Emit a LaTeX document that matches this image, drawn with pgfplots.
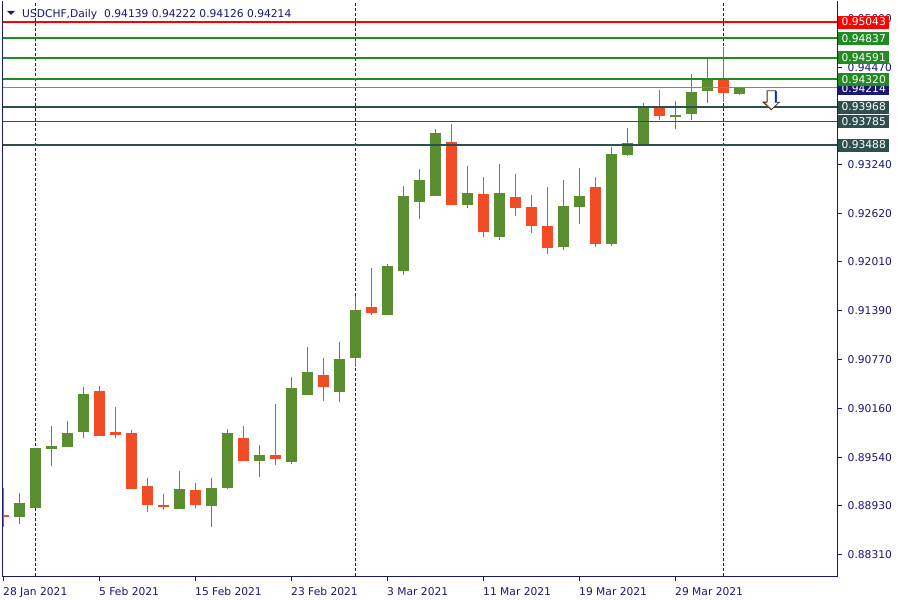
\documentclass[border=0pt]{standalone}
\usepackage{pgfplots}
\pgfplotsset{compat=1.18}
\usepackage{pgfplotstable}
\usepackage{fontspec}
\setmainfont{DejaVu Sans}
\definecolor{mtnavy}{RGB}{25,25,112}
\definecolor{cgreen}{RGB}{90,142,48}
\definecolor{cred}{RGB}{242,76,38}
\definecolor{lvgreen}{RGB}{34,139,34}
\definecolor{lvred}{RGB}{255,0,0}
\definecolor{lvslate}{RGB}{47,79,79}
\definecolor{lvgray}{RGB}{119,136,153}
\newcommand{\lab}{\fontsize{10.7bp}{12bp}\selectfont}

% bullish candles: index O H L C
\pgfplotstableread{
i O H L C
1 0.88785 0.89092 0.88697 0.88962
2 0.88903 0.89660 0.88899 0.89658
3 0.89645 0.89936 0.89430 0.89683
4 0.89670 0.89999 0.89667 0.89847
5 0.89860 0.90429 0.89784 0.90340
11 0.88886 0.89367 0.88882 0.89139
13 0.88924 0.89278 0.88663 0.89152
14 0.89152 0.89898 0.89139 0.89847
16 0.89493 0.89695 0.89291 0.89569
18 0.89481 0.90555 0.89455 0.90416
19 0.90328 0.90934 0.90325 0.90618
21 0.90365 0.90998 0.90239 0.90783
22 0.90795 0.91579 0.90682 0.91402
24 0.91339 0.91984 0.91335 0.91958
25 0.91895 0.92970 0.91845 0.92843
26 0.92767 0.93185 0.92553 0.93046
27 0.92843 0.93690 0.92840 0.93640
29 0.92730 0.93223 0.92692 0.92881
31 0.92325 0.93248 0.92287 0.92881
35 0.92199 0.93046 0.92161 0.92717
36 0.92704 0.93197 0.92489 0.92843
38 0.92237 0.93463 0.92211 0.93374
39 0.93362 0.93703 0.93349 0.93513
40 0.93501 0.94019 0.93475 0.93968
42 0.93846 0.94044 0.93690 0.93867
43 0.93880 0.94386 0.93804 0.94158
44 0.94171 0.94575 0.94019 0.94335
46 0.94139 0.94222 0.94126 0.94214
}\bull

% bearish candles: index O H L C
\pgfplotstableread{
i O H L C
0 0.88810 0.89156 0.88663 0.88785
6 0.90378 0.90445 0.89805 0.89809
7 0.89860 0.90176 0.89784 0.89822
8 0.89847 0.89885 0.89135 0.89139
9 0.89177 0.89278 0.88848 0.88937
10 0.88928 0.89076 0.88874 0.88912
12 0.89127 0.89215 0.88899 0.88937
15 0.89784 0.89936 0.89490 0.89493
17 0.89569 0.90214 0.89443 0.89518
20 0.90580 0.90795 0.90252 0.90429
23 0.91440 0.91933 0.91339 0.91364
28 0.93526 0.93754 0.92726 0.92730
30 0.92869 0.93084 0.92325 0.92388
32 0.92831 0.93121 0.92591 0.92692
33 0.92704 0.92856 0.92376 0.92464
34 0.92464 0.92957 0.92110 0.92186
37 0.92957 0.93084 0.92199 0.92237
41 0.93968 0.94183 0.93804 0.93855
45 0.94335 0.94727 0.94032 0.94145
}\bear

\begin{document}
\begin{tikzpicture}
\path[use as bounding box, fill=white] (-2bp,-24bp) rectangle (898bp,576bp);
\begin{axis}[
  scale only axis, width=835bp, height=575bp,
  at={(0,0)}, anchor=south west,
  xmin=-0.09375, xmax=52.09375, ymin=0.88039, ymax=0.95309,
  clip mode=individual,
  axis line style={draw=none},
  tick align=outside, major tick length=4.5bp,
  xtick pos=left, ytick pos=right,
  xtick={0,6,12,18,24,30,36,42},
  xticklabels={28 Jan 2021,5 Feb 2021,15 Feb 2021,23 Feb 2021,3 Mar 2021,11 Mar 2021,19 Mar 2021,29 Mar 2021},
  extra x ticks={2,22,45},
  extra x tick labels={},
  extra x tick style={grid=major, major tick length=0pt,
     major grid style={mtnavy, line width=0.9bp, dash pattern=on 3bp off 2bp}},
  ytick={0.88310,0.88930,0.89540,0.90160,0.90770,0.91390,0.92010,0.92620,0.93240,0.94470,0.95090},
  scaled y ticks=false,
  yticklabel style={/pgf/number format/fixed, /pgf/number format/fixed zerofill,
     /pgf/number format/precision=5, /pgf/number format/assume math mode=true},
  yticklabel style={anchor=west, inner sep=0pt, xshift=6bp, font=\lab, text=mtnavy},
  xticklabel style={anchor=north west, inner sep=0pt, xshift=-0.5bp, yshift=-6.5bp, font=\lab, text=mtnavy},
  tick style={mtnavy, line width=1bp},
  candle/.style 2 args={draw=none, no markers, error bars/.cd, y dir=both, y explicit, error mark=none,
     error bar style={draw=#1, line width=#2, solid}},
]
% wicks
\addplot[candle={cgreen}{1.25bp}]
  table[x=i, y expr={(\thisrow{H}+\thisrow{L})/2}, y error expr={(\thisrow{H}-\thisrow{L})/2}] {\bull};
\addplot[candle={cred}{1.25bp}]
  table[x=i, y expr={(\thisrow{H}+\thisrow{L})/2}, y error expr={(\thisrow{H}-\thisrow{L})/2}] {\bear};
% bodies
\addplot[candle={cgreen}{11bp}]
  table[x=i, y expr={(\thisrow{O}+\thisrow{C})/2}, y error expr={abs(\thisrow{C}-\thisrow{O})/2+0.00004}] {\bull};
\addplot[candle={cred}{11bp}]
  table[x=i, y expr={(\thisrow{O}+\thisrow{C})/2}, y error expr={abs(\thisrow{O}-\thisrow{C})/2+0.00004}] {\bear};
% levels
\addplot[lvred, line width=1.8bp] coordinates {(-1,0.95043) (53,0.95043)};
\addplot[lvgreen, line width=1.8bp] coordinates {(-1,0.94837) (53,0.94837)};
\addplot[lvgreen, line width=1.8bp] coordinates {(-1,0.94591) (53,0.94591)};
\addplot[lvgreen, line width=1.8bp] coordinates {(-1,0.94320) (53,0.94320)};
\addplot[lvgray, line width=1bp] coordinates {(-1,0.94214) (53,0.94214)};
\addplot[lvslate, line width=1.8bp] coordinates {(-1,0.93968) (53,0.93968)};
\addplot[lvslate, line width=1.8bp] coordinates {(-1,0.93785) (53,0.93785)};
\addplot[lvslate, line width=1.8bp] coordinates {(-1,0.93488) (53,0.93488)};
\coordinate (b1) at (axis cs:52.09375,0.95043);
\coordinate (b2) at (axis cs:52.09375,0.94837);
\coordinate (b3) at (axis cs:52.09375,0.94591);
\coordinate (b4) at (axis cs:52.09375,0.94320);
\coordinate (b5) at (axis cs:52.09375,0.94214);
\coordinate (b6) at (axis cs:52.09375,0.93968);
\coordinate (b7) at (axis cs:52.09375,0.93785);
\coordinate (b8) at (axis cs:52.09375,0.93488);
\coordinate (arr) at (axis cs:47.98,0.94060);
\end{axis}
% frame
\draw[mtnavy, line width=1bp] (0,575bp) -- (0,0) -- (835bp,0) -- (835bp,575bp);
% price boxes
\tikzset{pbox/.style={anchor=west, minimum width=51bp, minimum height=13bp, inner sep=0pt, font=\lab, text=white}}
\node[pbox, fill=mtnavy] at ([xshift=1bp,yshift=-1bp]b5) {0.94214};
\node[pbox, fill=lvred] at ([xshift=1bp]b1) {0.95043};
\node[pbox, fill=lvgreen] at ([xshift=1bp]b2) {0.94837};
\node[pbox, fill=lvgreen] at ([xshift=1bp]b3) {0.94591};
\node[pbox, fill=lvgreen] at ([xshift=1bp]b4) {0.94320};
\node[pbox, fill=lvslate] at ([xshift=1bp]b6) {0.93968};
\node[pbox, fill=lvslate] at ([xshift=1bp]b7) {0.93785};
\node[pbox, fill=lvslate] at ([xshift=1bp]b8) {0.93488};
% arrow
\begin{scope}[shift={(arr)}]
\fill[white] (-4.2bp,9bp) -- (4.2bp,9bp) -- (4.2bp,-2.5bp) -- (8bp,-2.5bp) -- (0,-10bp) -- (-8bp,-2.5bp) -- (-4.2bp,-2.5bp) -- cycle;
\draw[orange, line width=0.8bp] (-3.6bp,8.5bp) -- (-3.6bp,-2bp) -- (-7.2bp,-2bp) -- (0,-9bp);
\draw[blue!70!cyan, line width=0.8bp] (4.8bp,8.5bp) -- (4.8bp,-2bp);
\draw[black!80, line width=0.8bp] (-4.2bp,9bp) -- (4.2bp,9bp) -- (4.2bp,-2.5bp) -- (8bp,-2.5bp) -- (0,-10bp) -- (-8bp,-2.5bp) -- (-4.2bp,-2.5bp) -- cycle;
\end{scope}
% title
\fill[mtnavy] (5bp,565bp) -- (13bp,565bp) -- (9bp,561bp) -- cycle;
\node[anchor=base west, inner sep=0pt, font=\lab, text=mtnavy] at (20bp,558.5bp)
  {USDCHF,Daily\hspace{7bp}0.94139 0.94222 0.94126 0.94214};
\end{tikzpicture}
\end{document}
